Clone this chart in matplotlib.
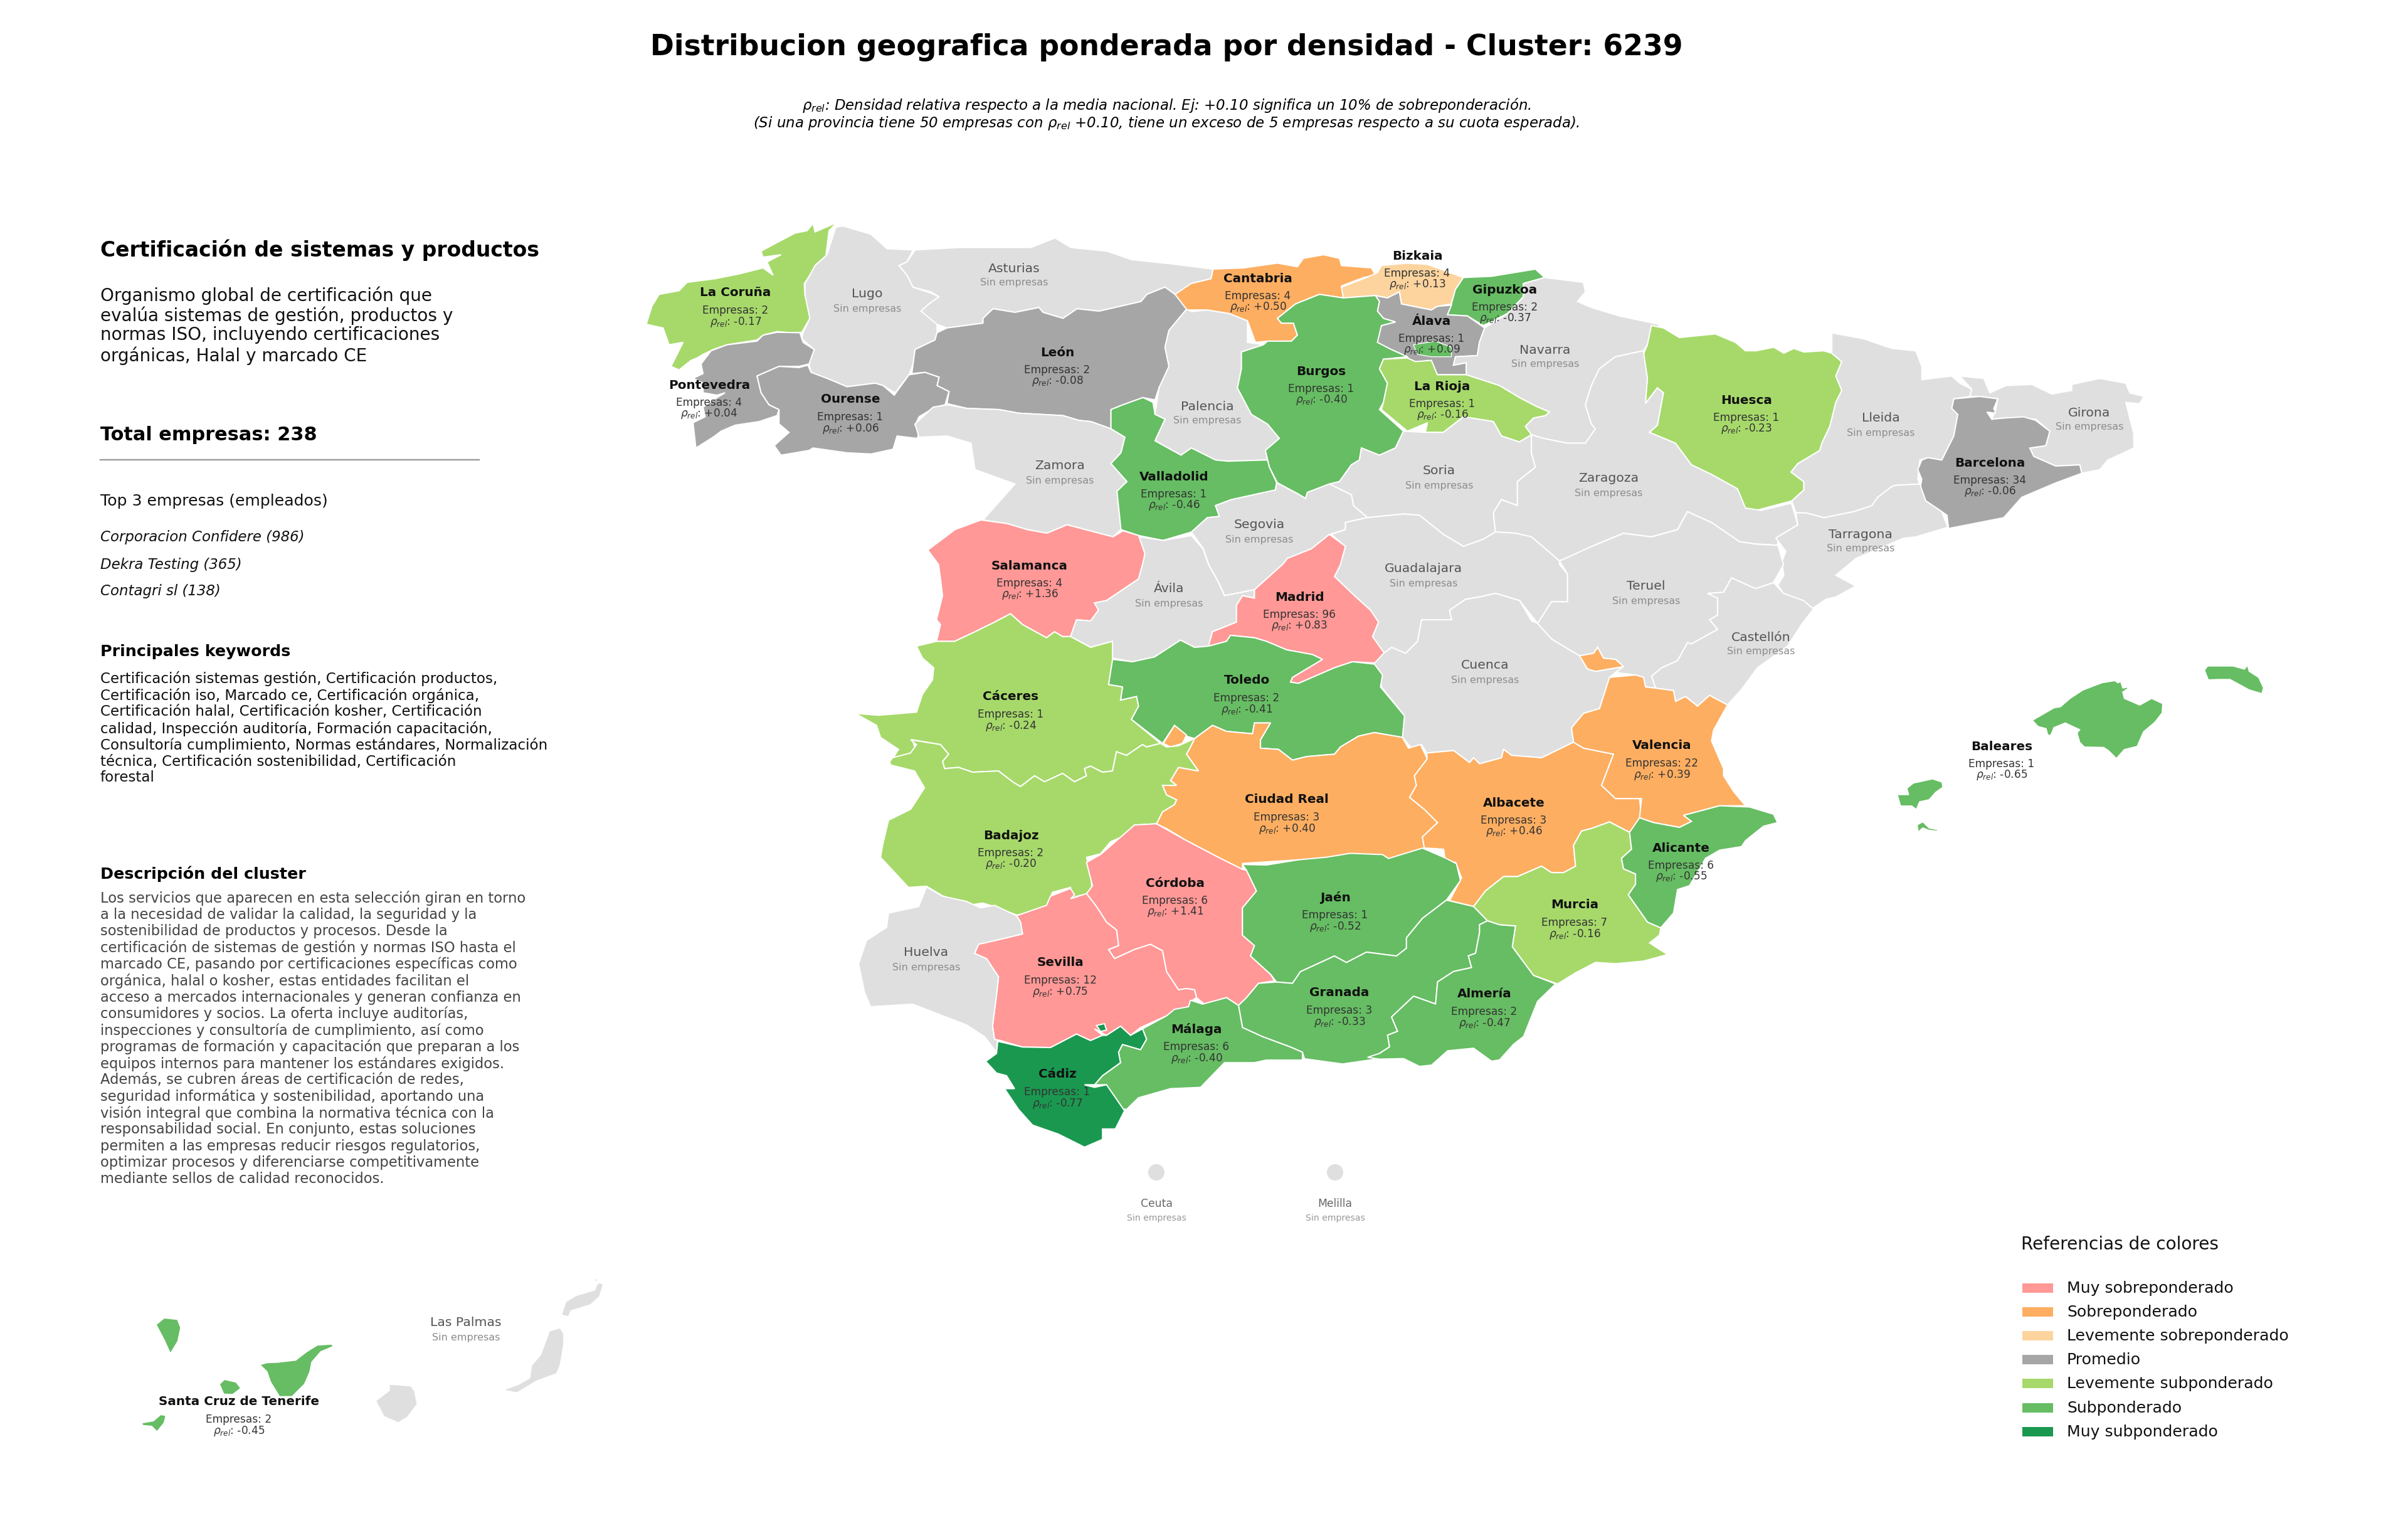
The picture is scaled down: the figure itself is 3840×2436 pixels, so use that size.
import matplotlib
matplotlib.use("Agg")
import matplotlib.pyplot as plt
from matplotlib.patches import Ellipse, Rectangle

# outlines were traced on crops of the map, each crop has its own origin and scale
# panel: x0, y0, scale x, scale y
PANELS = {
    "A": (1000, 320, 1.568, 2.613),
    "B": (1900, 320, 1.568, 2.613),
    "C": (2800, 500, 1.568, 2.613),
    "D": (1350, 900, 1.568, 2.613),
    "E": (2200, 900, 1.568, 2.613),
    "F": (1350, 1350, 1.568, 2.412),
    "G": (2200, 1300, 1.568, 2.412),
    "H": (3000, 1000, 1.96, 3.0),
    "I": (150, 2000, 1.742, 3.0),
}

# provinces: name, companies, relative density (None = sin empresas)
provinces = ["La Coruña", "Lugo", "Asturias", "León", "Pontevedra", "Ourense", "Zamora", "Palencia", "Valladolid",
             "Cantabria", "Bizkaia", "Gipuzkoa", "Álava", "Navarra", "Burgos", "La Rioja", "Huesca", "Soria",
             "Zaragoza", "Segovia", "Guadalajara", "Lleida", "Girona", "Barcelona", "Tarragona", "Castellón",
             "Salamanca", "Ávila", "Madrid", "Cuenca", "Teruel", "Toledo", "Cáceres", "Ciudad Real", "Badajoz",
             "Albacete", "Valencia", "Baleares", "Córdoba", "Jaén", "Sevilla", "Huelva", "Granada", "Málaga",
             "Cádiz", "Almería", "Murcia", "Alicante", "Las Palmas", "Santa Cruz de Tenerife"]
empresas = [2, None, None, 2, 4, 1, None, None, 1,
            4, 4, 2, 1, None, 1, 1, 1, None,
            None, None, None, None, None, 34, None, None,
            4, None, 96, None, None, 2, 1, 3, 2,
            3, 22, 1, 6, 1, 12, None, 3, 6,
            1, 2, 7, 6, None, 2]
rho = [-0.17, None, None, -0.08, 0.04, 0.06, None, None, -0.46,
       0.50, 0.13, -0.37, 0.09, None, -0.40, -0.16, -0.23, None,
       None, None, None, None, None, -0.06, None, None,
       1.36, None, 0.83, None, None, -0.41, -0.24, 0.40, -0.20,
       0.46, 0.39, -0.65, 1.41, -0.52, 0.75, None, -0.33, -0.40,
       -0.77, -0.47, -0.16, -0.55, None, -0.45]
label_x = [1173, 1383, 1617, 1686, 1131, 1356, 1690, 1925, 1872,
           2006, 2260, 2400, 2283, 2464, 2107, 2300, 2785, 2295,
           2565, 2008, 2270, 2999, 3332, 3173, 2967, 2808,
           1642, 1864, 2072, 2368, 2625, 1988, 1612, 2052, 1612,
           2414, 2650, 3192, 1874, 2129, 1691, 1477, 2136, 1908,
           1686, 2367, 2511, 2681, 743, 381]
label_y = [467, 469, 428, 562, 614, 637, 743, 648, 760,
           444, 408, 462, 512, 558, 592, 616, 638, 751,
           763, 837, 907, 667, 658, 738, 852, 1016,
           902, 939, 952, 1061, 935, 1085, 1111, 1275, 1332,
           1280, 1189, 1190, 1408, 1431, 1535, 1519, 1583, 1641,
           1713, 1585, 1443, 1352, 2109, 2235]

# outlines, one list of rings per province
la_coruna = [[("A", [(525,90),(505,125),(497,230),(470,270),(462,300),(443,345),(445,395),(455,430),(457,490),(437,548),(410,550),(375,545),(340,560),(325,580),(250,600),(215,620),(190,640),(175,655),(160,665),(130,705),(110,690),(125,640),(140,590),(105,600),(90,530),(48,515),(62,440),(80,390),(130,375),(150,340),(220,325),(280,305),(340,280),(365,310),(350,255),(385,225),(340,235),(335,210),(380,170),(420,135),(450,125),(465,95),(470,130),(505,105)])]]
pontevedra = [[("A", [(432,550),(440,590),(468,620),(455,680),(430,690),(380,690),(325,730),(335,800),(355,850),(380,870),(375,895),(330,920),(270,935),(235,960),(215,985),(172,1030),(165,925),(195,900),(190,860),(215,830),(245,800),(225,810),(190,800),(190,760),(165,740),(190,720),(185,680),(210,625),(250,600),(325,585),(340,560),(375,548)])]]
ourense = [[("A", [(325,730),(380,690),(430,695),(452,685),(460,715),(500,740),(550,775),(620,760),(640,770),(668,810),(705,725),(745,715),(780,735),(775,770),(805,795),(795,850),(770,860),(730,900),(720,935),(735,955),(725,990),(675,980),(665,1035),(610,1055),(550,1050),(465,1030),(455,1040),(385,1060),(368,1020),(405,965),(380,930),(380,870),(355,850),(335,800)])]]
lugo = [[("A", [(522,110),(540,105),(570,120),(610,140),(650,200),(715,205),(700,255),(680,270),(700,310),(715,360),(760,385),(780,400),(755,430),(735,460),(775,500),(775,550),(770,580),(720,620),(715,680),(705,725),(670,800),(640,770),(620,760),(550,775),(500,740),(460,715),(455,680),(468,620),(437,575),(440,550),(457,490),(445,395),(445,345),(470,270),(500,225)])]]
asturias = [[("A", [(720,205),(830,195),(1010,195),(1070,155),(1110,195),(1200,210),(1260,245),(1370,265),(1465,285),(1460,325),(1410,345),(1400,380),(1370,390),(1345,360),(1300,390),(1285,420),(1180,460),(1125,450),(1090,490),(1040,465),(1030,445),(970,465),(915,450),(890,490),(890,510),(800,530),(775,515),(735,460),(755,430),(780,400),(760,380),(715,360),(700,310),(680,270),(700,255)])]]
leon = [[("A", [(800,530),(890,510),(890,490),(915,450),(970,465),(1030,445),(1040,465),(1090,490),(1125,450),(1180,460),(1285,420),(1300,390),(1345,360),(1370,390),(1400,450),(1355,540),(1345,610),(1355,690),(1330,780),(1320,830),(1290,820),(1240,850),(1210,870),(1210,950),(1160,920),(1130,915),(1090,895),(980,885),(930,870),(850,865),(800,845),(805,795),(775,770),(780,735),(745,715),(712,720),(720,620),(770,580),(775,550)])]]
zamora = [[("A", [(800,850),(850,865),(930,870),(980,885),(1090,895),(1130,915),(1160,920),(1210,950),(1245,985),(1235,1050),(1210,1095),(1250,1170),(1225,1210),(1235,1370),(1215,1400),(1180,1385),(1100,1350),(1050,1385),(1000,1370),(950,1345),(890,1330),(970,1180),(870,1120),(860,1010),(800,980),(730,985),(720,930),(765,860)])]]
valladolid = [[("A", [(1210,870),(1240,850),(1290,820),(1315,840),(1320,890),(1345,910),(1320,1000),(1385,1060),(1411,1030)]),
               ("B", [(60,1080),(90,1085),(190,1080),(195,1110),(213,1175),(210,1205),(100,1245),(60,1270),(70,1315),(40,1320),(0,1380)]),
               ("A", [(1340,1415),(1280,1395),(1235,1370),(1225,1210),(1250,1170),(1210,1095),(1235,1050),(1245,985),(1210,950)])]]
palencia = [[("A", [(1400,450),(1355,540),(1345,610),(1355,690),(1330,780),(1320,890),(1345,910),(1320,1000),(1385,1060),(1411,1030)]),
             ("B", [(60,1080),(90,1085),(190,1080),(185,1040),(220,990),(190,930),(150,890),(115,780),(125,700),(125,630),(180,600),(140,590),(140,500),(95,470),(40,455),(0,462)])]]
cantabria = [[("B", [(54,285),(49,325),(-1,345),(-41,390),(-11,455),(40,455),(95,470),(140,500),(160,590),(190,585),(250,585),(265,560),(255,510),(225,510),(215,490),(260,430),(320,390),(380,405),(375,355),(430,320),(460,310),(450,280),(375,270),(370,240),(330,225),(280,240),(265,275),(215,260),(130,280)])]]
bizkaia = [[("B", [(375,360),(430,325),(465,300),(475,270),(540,260),(590,265),(680,320),(660,370),(650,430),(615,440),(600,455),(525,430),(520,380),(490,405),(460,395),(380,405)])],
           [("B", [(490,465),(505,455),(515,475),(495,480)])]]
gipuzkoa = [[("B", [(680,320),(750,315),(860,285),(883,320),(830,345),(830,400),(790,470),(730,520),(690,480),(640,475),(650,430),(660,370)])]]
alava = [[("B", [(460,395),(490,405),(520,380),(525,430),(600,455),(615,440),(650,435),(640,475),(690,480),(733,530),(720,590),(715,645),(660,650),(655,685),(687,675),(687,725),(615,725),(590,665),(555,690),(540,650),(500,620),(460,590),(475,520),(510,505),(480,490),(465,460),(470,420)])],
         [("B", [(425,530),(450,500),(475,520),(465,545),(445,555)])]]
burgos = [[("B", [(125,630),(180,600),(190,585),(250,585),(265,560),(255,510),(225,510),(215,490),(260,430),(320,390),(380,405),(460,395),(470,420),(465,460),(480,490),(510,505),(475,520),(465,590),(500,620),(540,650),(480,660),(470,700),(490,760),(480,840),(470,870),(530,960),(510,1030),(470,1060),(425,1030),(420,1080),(400,1100),(370,1170),(345,1180),(290,1215),(285,1240),(265,1220),(215,1175),(195,1110),(185,1040),(220,990),(190,930),(150,890),(115,780),(125,700)])]]
trevino = [[("B", [(555,600),(610,585),(650,610),(650,650),(600,650),(565,640)])]]
la_rioja = [[("B", [(480,660),(540,655),(560,670),(600,665),(615,725),(687,725),(715,740),(770,770),(820,820),(860,855),(895,880),(885,895),(855,905),(835,940),(850,975),(820,1005),(775,980),(755,920),(680,900),(630,965),(585,965),(590,925),(540,960),(475,870),(480,840),(490,760),(470,700)])]]
navarra = [[("B", [(883,320),(980,340),(985,380),(965,420),(1000,445),(1070,480),(1140,505),(1170,515),(1140,600),(1130,625),(1060,650),(1020,700),(1000,770),(985,850),(1000,930),(1010,950),(985,1010),(940,1010),(880,990),(850,975),(835,940),(855,905),(885,895),(895,880),(860,855),(820,820),(770,770),(715,740),(687,725),(687,675),(655,685),(660,650),(715,645),(720,590),(733,530),(790,470),(830,400),(830,345)])]]
huesca = [[("B", [(1150,520),(1180,530),(1220,570),(1310,555),(1360,590),(1385,625),(1411,625)]),
           ("C", [(0,155),(45,140),(70,165),(95,145),(120,160),(170,155),(190,165),(215,200),(200,260),(215,320),(200,370),(185,470),(165,540),(160,570),(105,625),(88,660),(120,700),(120,735),(90,780),(0,820)]),
           ("B", [(1385,1280),(1365,1200),(1300,1140),(1250,1100),(1210,1010),(1145,965),(1165,935),(1180,800),(1165,780),(1135,845),(1140,740),(1130,640),(1140,600)])]]
zaragoza = [[("B", [(1010,950),(1000,930),(985,850),(1000,770),(1020,700),(1060,650),(1130,625),(1140,740),(1135,845),(1165,780),(1180,800),(1165,935),(1145,965),(1210,1010),(1250,1100),(1300,1140),(1365,1200),(1385,1280),(1425,1290),(1500,1260),(1511,1320),(1516,1350),(1466,1400),(1466,1435),(1411,1430),(1370,1420),(1300,1340),(1240,1295),(1215,1370),(1150,1400),(1080,1385),(1000,1440),(960,1480),(920,1500),(850,1400),(810,1385),(760,1380),(755,1300),(775,1245),(815,1270),(815,1170),(860,1110),(850,1050),(850,975),(880,990),(940,1010),(985,1010)])]]
soria = [[("B", [(530,960),(585,965),(630,965),(680,900),(755,920),(775,980),(820,1005),(850,975),(850,1050),(860,1110),(815,1170),(815,1270),(775,1245),(755,1300),(760,1380),(730,1410),(680,1440),(630,1390),(570,1310),(530,1305),(440,1320),(405,1270),(400,1225),(345,1180),(370,1170),(400,1100),(420,1080),(425,1030),(470,1060),(510,1030)])]]
segovia = [[("B", [(213,1175),(265,1220),(285,1240),(290,1215),(345,1180),(400,1225),(405,1270),(440,1320),(385,1340),(385,1370),(345,1390),(300,1450),(240,1490),(228,1515),(158,1620),(83,1645),(68,1590),(43,1515),(30,1450),(0,1380),(40,1320),(70,1315),(60,1270),(100,1245),(210,1205)])]]
guadalajara = [[("B", [(385,1340),(440,1320),(530,1305),(570,1310),(630,1390),(680,1440),(730,1410),(760,1380),(810,1385),(850,1400),(920,1500)]),
                ("E", [(450,0),(470,40),(470,155),(430,155),(395,245),(350,150),(290,120),(250,135),(215,145),(175,190),(180,230),(105,230),(95,320),(65,370),(30,345),(10,370)]),
                ("D", [(1315,300),(1330,240),(1310,190),(1270,130),(1220,50),(1235,0)]),
                ("B", [(375,1500),(385,1440),(350,1390),(385,1370)])]]
madrid = [[("B", [(345,1390),(385,1440),(375,1500)]),
           ("D", [(1235,0),(1220,50),(1270,130),(1310,190),(1330,240),(1315,300),(1345,370),(1350,395),(1320,410),(1265,405),(1220,430),(1130,495),(1110,490),(1115,470),(1190,395),(1165,375),(1100,355),(1050,320),(1020,305),(960,295),(950,320),(905,340),(915,280),(975,240),(975,170),(990,130),(1020,140),(1020,105),(1090,0)]),
           ("B", [(228,1515),(240,1490),(300,1450)])]]
avila = [[("A", [(1280,1400),(1340,1415),(1411,1395),(1440,1450)]),
          ("D", [(905,0),(930,75),(945,130),(1020,105),(1020,140),(990,130),(975,170),(975,240),(915,280),(905,340),(870,345),(835,315),(770,385),(715,405),(665,390),(665,320),(610,345),(560,300),(575,230),(610,235),(630,190),(620,160),(650,150),(730,60),(740,0)]),
          ("A", [(1295,1470)])]]
salamanca = [[("A", [(752,1455),(820,1370),(885,1330),(950,1345),(1000,1370),(1050,1385),(1100,1350),(1180,1385),(1215,1400),(1240,1375),(1280,1395),(1295,1470),(1289,1515)]),
              ("D", [(730,60),(650,150),(620,160),(630,190),(610,235),(575,230),(560,300),(540,300),(520,280),(500,305),(440,250),(410,205),(370,240),(315,285),(270,320),(225,320),(235,250),(225,230),(240,130),(235,60),(230,0)])]]
caceres = [[("D", [(225,320),(270,320),(315,285),(370,240),(410,205),(440,250),(500,305),(520,280),(540,300),(560,300),(610,345),(665,320),(665,395),(655,500),(690,510),(685,565),(725,550),(730,590),(712,645),(785,745),(750,760),(740,750),(700,795),(675,780),(665,860),(640,865),(610,840),(595,850),(600,880),(570,905),(540,870),(495,905),(470,880),(435,925),(415,905),(380,860),(315,865),(280,845),(245,850),(240,820),(255,790),(235,750),(165,730),(175,790),(115,810),(130,770),(85,720),(75,670),(22,620),(80,628),(175,615),(190,540),(215,480),(218,430),(190,390),(175,340)])]]
badajoz = [[("D", [(108,820),(115,805),(160,785),(175,750),(160,730),(235,750),(255,790),(240,820),(245,850),(280,845),(315,865),(380,860),(415,905),(435,925),(470,880),(495,905),(540,870),(570,905),(600,880),(595,850),(610,840),(640,865),(665,860),(675,780),(700,795),(740,750),(750,760),(785,745),(800,760),(830,755),(870,725),(860,760),(850,790),(880,860),(830,845),(810,900),(825,920),(790,920),(800,960),(825,980),(820,1000),(790,1030),(775,1080),(720,1085),(715,1115),(660,1155),(635,1205),(600,1220),(610,1290),(615,1370),(580,1380),(555,1395),(560,1345),(515,1365),(495,1440),(425,1460),(370,1425),(340,1410),(305,1420),(240,1380),(200,1340),(155,1345),(85,1220),(90,1170),(105,1065),(160,1020),(170,995),(195,930),(170,860),(110,835)])]]
toledo = [[("D", [(665,395),(715,405),(770,385),(835,315),(870,345),(905,340),(950,320),(960,295),(1020,305),(1050,320),(1100,355),(1165,375),(1190,395),(1115,470),(1110,490),(1130,495),(1220,430),(1265,405),(1320,415),(1340,460),(1335,510),(1395,630),(1390,720),(1320,700),(1280,715),(1235,760),(1220,790),(1150,800),(1115,815),(1080,770),(1035,765),(1035,730),(1060,660),(1020,660),(1015,705),(950,695),(915,670),(870,725),(850,715),(820,670),(790,745),(712,645),(730,590),(725,550),(685,565),(690,510),(655,500)])]]
ciudad_real = [[("D", [(870,725),(915,670),(950,695),(1015,705),(1020,660),(1060,660),(1035,730),(1035,765),(1080,770),(1115,815),(1150,800),(1220,790),(1235,760),(1280,715),(1320,700),(1390,720),(1405,765),(1435,750),(1452,810),(1420,880),(1425,920),(1408,970),(1445,1020),(1478,1075),(1440,1135),(1445,1180),(1395,1215),(1360,1230),(1330,1210),(1260,1205),(1200,1240),(1130,1230),(990,1245),(990,1270),(930,1220),(850,1150),(800,1100),(775,1080),(790,1030),(820,1000),(825,980),(800,960),(790,920),(825,920),(810,900),(830,845),(880,860),(850,790),(860,760)])],
               [("D", [(820,670),(850,710),(840,745),(810,760),(792,745)])]]
cordoba = [[("D", [(720,1085),(775,1080),(850,1150),(930,1220),(990,1270)]),
            ("F", [(1000,90),(1025,170),(990,235),(990,340),(1020,380),(1010,420),(1060,490),(1070,515),(1030,525),(1000,580),(980,610),(950,580),(895,605),(875,580),(870,550),(850,545),(830,550),(800,480),(790,400),(760,375),(740,385),(720,395),(670,430),(655,395),(680,380),(675,320),(650,290),(625,230),(600,180),(615,150),(600,60),(635,30),(650,10)])]]
sevilla = [[("F", [(425,265),(500,225),(510,190),(560,160),(570,185),(560,200),(600,180),(625,230),(650,290),(675,320),(680,380),(655,395),(670,430),(720,395),(760,375),(790,400),(800,480),(830,550),(850,545),(870,550),(875,580),(860,595),(855,615),(800,650),(735,695),(710,725),(685,690),(650,725),(620,700),(640,725),(610,745),(575,720),(510,772),(440,770),(385,745),(370,740),(365,690),(375,570),(380,500),(350,430),(320,410),(330,375),(400,350),(440,335),(435,290)])]]
huelva = [[("F", [(200,155),(240,190),(300,210),(335,235),(370,225),(425,265),(435,290),(440,335),(400,350),(330,375),(320,410),(350,430),(380,500),(375,570),(365,690),(370,740),(378,745),(375,790),(345,730),(300,685),(165,605),(60,615),(45,560),(30,450),(50,360),(100,310),(105,255),(180,230)])]]
cadiz = [[("F", [(378,748),(440,770),(510,772),(575,720),(610,745),(640,725),(650,725),(685,690),(710,725),(740,700),(750,740),(735,780),(690,760),(680,790),(685,830),(640,880),(620,915),(595,915),(620,925),(650,915),(695,1015),(672,1085),(640,1085),(640,1125),(595,1155),(530,1105),(465,1070),(430,1010),(395,930),(420,930),(400,880),(375,870),(348,825),(375,795)])],
         [("F", [(625,687),(645,680),(650,705),(635,710)])]]
malaga = [[("F", [(860,590),(890,605),(950,580),(980,610),(990,695),(1040,730),(1110,770),(1140,790),(1140,820),(1050,820),(1020,830),(945,830),(885,925),(810,930),(730,965),(700,1010),(680,1005),(650,915),(620,915),(640,880),(685,830),(680,790),(690,760),(735,780),(750,740),(740,700),(800,650),(820,625),(855,615)])]]
jaen = [[("F", [(990,68),(1050,70),(1130,50),(1200,40),(1260,25),(1340,30),(1355,45),(1440,5),(1500,45),(1525,65),(1535,130),(1500,205),(1440,275),(1400,350),(1400,390),(1375,420),(1300,405),(1250,445),(1220,420),(1135,480),(1115,525),(1075,520),(1060,490),(1010,420),(1020,380),(990,340),(990,235),(1025,170),(1000,90)])]]
granada = [[("F", [(1075,520),(1115,525),(1135,480),(1220,420),(1250,445),(1300,405),(1375,420),(1400,390),(1400,350),(1440,275),(1500,205)]),
            ("G", [(235,350),(270,405),(250,420),(250,450),(240,530),(222,540),(230,585),(185,600),(145,640),(140,725),(85,695),(30,775),(45,830),(20,845),(25,890),(0,915)]),
            ("F", [(1330,815),(1240,835),(1145,815),(1140,790),(1110,770),(1040,730),(990,695),(980,610),(1000,580),(1030,525)])]]
almeria = [[("G", [(250,420),(270,405),(300,420),(340,425),(332,505),(385,615),(440,648),(395,715),(360,850),(335,880),(300,940),(280,945),(235,895),(170,905),(130,960),(100,965),(60,935),(0,937),(-30,930),(0,915),(25,890),(20,845),(45,830),(30,775),(85,695),(140,725),(145,640),(185,600),(230,585),(222,540),(240,530),(250,450)])]]
murcia = [[("G", [(235,350),(265,290),(310,235),(345,235),(405,195),(430,220),(460,220),(490,195),(485,115),(505,60),(530,50),(575,25),(625,65),(630,130),(605,165),(610,205),(640,225),(640,265),(622,305),(670,410),(703,432),(700,460),(675,490),(720,535),(660,560),(590,570),(540,565),(490,605),(445,648),(385,615),(332,505),(340,425),(300,420),(270,405)])]]
alicante = [[("E", [(650,1055),(685,1075),(750,1095),(780,1070),(760,1045),(850,1005),(925,1010),(985,1040),(995,1075),(960,1090),(915,1150),(905,1175),(850,1190)]),
             ("G", [(815,165),(775,270),(745,285),(735,375),(703,432),(670,410),(622,305),(640,265),(640,225),(610,205),(605,165),(630,130),(625,65)])]]
albacete = [[("E", [(118,785),(185,775),(225,825),(235,805),(250,830),(305,805),(310,770),(330,795),(405,805),(485,740),(510,765),(585,790),(555,920),(590,975),(650,975),(655,1055),(655,1100)]),
             ("G", [(625,65),(575,25),(530,50),(505,60),(485,115),(490,195),(460,220),(430,220),(405,195),(345,235),(310,235),(265,290),(235,350),(175,328),(205,240),(190,180),(165,180),(160,130),(112,125)]),
             ("E", [(107,1135),(145,1075),(112,1020),(75,970),(92,920),(87,880),(119,810)])]]
valencia = [[("E", [(575,470),(640,460),(660,470),(665,510),(690,515),(735,525),(740,570),(765,550),(795,590),(825,545),(870,585),(835,690),(830,735),(860,850),(860,880),(885,945),(915,1005),(850,1005),(760,1045),(780,1070),(750,1095),(685,1075),(650,1055),(655,975),(590,975),(555,920),(585,790),(510,765),(485,740),(480,680),(510,620),(550,600)])],
            [("E", [(500,380),(535,370),(545,345),(560,390),(590,395),(610,425),(540,445),(520,435)])]]
cuenca = [[("E", [(10,370),(30,345),(65,370),(95,320),(105,230),(180,230),(175,190),(215,145),(250,135),(290,120),(350,150),(380,235),(395,245),(430,310),(500,380),(520,435),(540,445),(610,425),(590,450),(575,470),(550,600),(510,620),(480,680),(485,740),(405,805),(330,795),(310,770),(305,805),(250,830),(235,805),(225,825),(185,775),(118,785),(105,750),(80,765),(55,715),(60,625),(5,510),(0,460),(-15,415)])]]
teruel = [[("E", [(450,-15),(530,-75),(610,-130),(680,-115),(745,-145),(770,-220),(830,-175),(900,-95),(941,-85),(996,-80),(1010,0),(985,75),(940,100),(880,55),(860,115),(820,120),(845,140),(845,210),(825,230),(845,270),(780,330),(770,325),(745,400),(705,430),(680,465),(690,515),(665,510),(660,470),(640,460),(590,450),(610,425),(590,395),(560,390),(545,345),(535,370),(500,380),(430,310),(395,245),(430,155),(470,155),(470,40)])]]
castellon = [[("E", [(880,55),(940,100),(985,75),(1010,120),(1060,150),(1085,185),(1055,250),(1020,340),(945,430),(905,520),(870,585),(825,545),(795,590),(765,550),(740,570),(735,525),(690,515),(680,465),(705,430),(745,400),(770,325),(780,330),(845,270),(825,230),(845,210),(845,140),(820,120),(860,115)])]]
tarragona = [[("C", [(100,830),(125,830),(170,850),(245,825),(290,800),(305,765),(340,720),(350,715),(410,710),(425,780),(465,825),(480,890),(400,930),(370,935),(250,1020),(200,1090),(250,1135),(200,1180),(175,1190),(140,1230),(75,1180),(55,1130),(70,1090),(65,1035),(75,990),(50,935),(105,880)])]]
lleida = [[("C", [(190,80),(270,105),(340,145),(400,155),(415,220),(415,275),(490,260),(510,290),(540,315),(535,345),(495,355),(490,395),(505,420),(495,510),(465,610),(430,600),(410,610),(405,690),(410,710),(350,715),(340,720),(305,765),(290,800),(245,825),(170,850),(125,830),(100,830),(90,780),(120,735),(120,700),(88,660),(105,625),(160,570),(165,540),(185,470),(200,370),(215,320),(200,260),(215,200),(190,165)])]]
girona = [[("C", [(510,260),(570,270),(585,330),(625,300),(690,295),(740,335),(790,320),(790,295),(860,270),(925,290),(935,330),(970,345),(960,375),(925,370),(945,500),(945,560),(880,610),(860,650),(815,665),(810,630),(750,635),(695,595),(685,560),(725,550),(735,490),(700,440),(620,435),(590,440),(600,400),(605,355),(560,345),(535,345),(540,315)])]]
barcelona = [[("C", [(495,355),(560,345),(605,355),(595,395),(600,415),(578,410),(590,440),(620,435),(670,430),(700,445),(735,490),(725,550),(685,560),(695,595),(750,635),(810,630),(815,665),(750,705),(665,765),(620,850),(482,895),(478,840),(465,825),(425,780),(410,735),(415,690),(405,650),(415,610),(430,600),(465,610),(495,510),(505,420),(490,395)])]]
baleares = [[("H", [(472,445),(540,385),(560,380),(590,340),(630,300),(690,265),(730,255),(740,265),(780,240),(750,265),(755,290),(780,285),(755,310),(760,340),(808,372),(845,340),(880,365),(878,410),(855,455),(820,500),(800,570),(760,585),(735,628),(710,590),(695,575),(635,573),(620,550),(612,505),(620,490),(575,458),(540,480),(530,517),(520,515),(515,485),(490,475)])],
            [("H", [(1010,205),(1020,185),(1100,185),(1135,200),(1145,180),(1150,210),(1180,240),(1195,290),(1190,318),(1150,300),(1090,250),(1055,250),(1022,252)])],
            [("H", [(50,800),(85,800),(80,770),(100,745),(160,725),(190,740),(193,765),(170,790),(150,825),(120,835),(110,872),(95,855),(60,855)])],
            [("H", [(112,945),(130,930),(150,960),(180,968),(175,975),(150,972),(130,960),(115,980)])],
            [("H", [(685,700),(695,700),(692,708)])]]
tenerife = [[("I", [(172,335),(195,303),(232,310),(241,350),(233,415),(212,475),(195,410)])],
            [("I", [(460,527),(480,517),(510,515),(560,505),(590,465),(620,433),(660,428),(665,440),(630,465),(605,515),(600,560),(585,620),(550,680),(515,680),(490,610),(480,560)])],
            [("I", [(348,620),(362,597),(395,610),(408,640),(385,670),(360,668)])],
            [("I", [(132,805),(165,795),(185,765),(200,770),(195,805),(175,848),(160,822),(135,818)])]]
las_palmas = [[("I", [(782,700),(820,650),(820,620),(880,628),(890,650),(898,715),(870,780),(845,805),(805,775)])],
              [("I", [(1135,648),(1180,620),(1210,590),(1215,530),(1240,480),(1265,365),(1295,350),(1305,380),(1305,430),(1295,530),(1285,570),(1230,605),(1175,662)])],
              [("I", [(1298,290),(1310,225),(1340,195),(1390,170),(1400,135),(1415,140),(1405,200),(1380,240),(1325,270),(1318,298)])],
              [("I", [(1390,128),(1396,106),(1400,128)])]]

outlines = {"La Coruña": la_coruna, "Lugo": lugo, "Asturias": asturias, "León": leon, "Pontevedra": pontevedra,
            "Ourense": ourense, "Zamora": zamora, "Palencia": palencia, "Valladolid": valladolid,
            "Cantabria": cantabria, "Bizkaia": bizkaia, "Gipuzkoa": gipuzkoa, "Álava": alava, "Navarra": navarra,
            "Burgos": burgos, "La Rioja": la_rioja, "Huesca": huesca, "Soria": soria, "Zaragoza": zaragoza,
            "Segovia": segovia, "Guadalajara": guadalajara, "Lleida": lleida, "Girona": girona,
            "Barcelona": barcelona, "Tarragona": tarragona, "Castellón": castellon, "Salamanca": salamanca,
            "Ávila": avila, "Madrid": madrid, "Cuenca": cuenca, "Teruel": teruel, "Toledo": toledo,
            "Cáceres": caceres, "Ciudad Real": ciudad_real, "Badajoz": badajoz, "Albacete": albacete,
            "Valencia": valencia, "Baleares": baleares, "Córdoba": cordoba, "Jaén": jaen, "Sevilla": sevilla,
            "Huelva": huelva, "Granada": granada, "Málaga": malaga, "Cádiz": cadiz, "Almería": almeria,
            "Murcia": murcia, "Alicante": alicante, "Las Palmas": las_palmas, "Santa Cruz de Tenerife": tenerife}

# colour classes
legend_labels = ["Muy sobreponderado", "Sobreponderado", "Levemente sobreponderado", "Promedio",
                 "Levemente subponderado", "Subponderado", "Muy subponderado"]
legend_colors = ["#FF9896", "#FDAE61", "#FDD49E", "#A6A6A6", "#A6D96A", "#66BD63", "#1A9850"]
NO_DATA = "#DFDFDF"

# side panel text
title = "Distribucion geografica ponderada por densidad - Cluster: 6239"
subtitle = [r"$\rho_{rel}$: Densidad relativa respecto a la media nacional. Ej: +0.10 significa un 10% de sobreponderación.",
            r"(Si una provincia tiene 50 empresas con $\rho_{rel}$ +0.10, tiene un exceso de 5 empresas respecto a su cuota esperada)."]
desc_lines = ["Organismo global de certificación que", "evalúa sistemas de gestión, productos y",
              "normas ISO, incluyendo certificaciones", "orgánicas, Halal y marcado CE"]
top_companies = ["Corporacion Confidere (986)", "Dekra Testing (365)", "Contagri sl (138)"]
keyword_lines = ["Certificación sistemas gestión, Certificación productos,",
                 "Certificación iso, Marcado ce, Certificación orgánica,",
                 "Certificación halal, Certificación kosher, Certificación",
                 "calidad, Inspección auditoría, Formación capacitación,",
                 "Consultoría cumplimiento, Normas estándares, Normalización",
                 "técnica, Certificación sostenibilidad, Certificación",
                 "forestal"]
cluster_lines = ["Los servicios que aparecen en esta selección giran en torno",
                 "a la necesidad de validar la calidad, la seguridad y la",
                 "sostenibilidad de productos y procesos. Desde la",
                 "certificación de sistemas de gestión y normas ISO hasta el",
                 "marcado CE, pasando por certificaciones específicas como",
                 "orgánica, halal o kosher, estas entidades facilitan el",
                 "acceso a mercados internacionales y generan confianza en",
                 "consumidores y socios. La oferta incluye auditorías,",
                 "inspecciones y consultoría de cumplimiento, así como",
                 "programas de formación y capacitación que preparan a los",
                 "equipos internos para mantener los estándares exigidos.",
                 "Además, se cubren áreas de certificación de redes,",
                 "seguridad informática y sostenibilidad, aportando una",
                 "visión integral que combina la normativa técnica con la",
                 "responsabilidad social. En conjunto, estas soluciones",
                 "permiten a las empresas reducir riesgos regulatorios,",
                 "optimizar procesos y diferenciarse competitivamente",
                 "mediante sellos de calidad reconocidos."]


def ring_xy(ring):
    xs, ys = [], []
    for panel, pts in ring:
        x0, y0, sx, sy = PANELS[panel]
        for px, py in pts:
            xs.append(x0 + px / sx)
            ys.append(y0 + py / sy)
    return xs, ys


def class_color(r):
    if r is None:
        return NO_DATA
    if r >= 0.75:
        return legend_colors[0]
    if r >= 0.3:
        return legend_colors[1]
    if r > 0.1:
        return legend_colors[2]
    if r >= -0.1:
        return legend_colors[3]
    if r >= -0.3:
        return legend_colors[4]
    if r >= -0.7:
        return legend_colors[5]
    return legend_colors[6]


fig = plt.figure(figsize=(16, 10.15), dpi=240)
ax = fig.add_axes([0, 0, 1, 1])
ax.set_xlim(0, 3840)
ax.set_ylim(2436, 0)
ax.axis("off")

# map
for name, r in zip(provinces, rho):
    for ring in outlines[name]:
        xs, ys = ring_xy(ring)
        ax.fill(xs, ys, facecolor=class_color(r), edgecolor="white", linewidth=0.6, zorder=2)
for ring in trevino:
    xs, ys = ring_xy(ring)
    ax.fill(xs, ys, facecolor=class_color(-0.40), edgecolor="white", linewidth=0.4, zorder=3)

# labels
for name, n, r, x, y in zip(provinces, empresas, rho, label_x, label_y):
    if n is None:
        ax.text(x, y, name, ha="center", va="center", fontsize=6.1, color="#555555", zorder=5)
        ax.text(x, y + 23, "Sin empresas", ha="center", va="center", fontsize=4.8, color="#8c8c8c", zorder=5)
    else:
        ax.text(x, y, name, ha="center", va="center", fontsize=6, fontweight="bold", color="#111111", zorder=5)
        ax.text(x, y + 28, f"Empresas: {n}", ha="center", va="center", fontsize=5.1, color="#333333", zorder=5)
        ax.text(x, y + 46, r"$\rho_{rel}$: " + f"{r:+.2f}", ha="center", va="center", fontsize=5.1,
                color="#333333", zorder=5)

# ceuta y melilla
for name, x in zip(["Ceuta", "Melilla"], [1844, 2129]):
    ax.add_patch(Ellipse((x, 1869), 26, 26, facecolor=NO_DATA, edgecolor="none", zorder=2))
    ax.text(x, 1919, name, ha="center", va="center", fontsize=5.2, color="#666666")
    ax.text(x, 1942, "Sin empresas", ha="center", va="center", fontsize=4.2, color="#999999")

# title
ax.text(1860, 75, title, ha="center", va="center", fontsize=13.7, fontweight="bold", color="black")
for line, y in zip(subtitle, [168, 197]):
    ax.text(1860, y, line, ha="center", va="center", fontsize=6.85, style="italic", color="black")

# left panel
LEFT = 160
ax.text(LEFT, 399, "Certificación de sistemas y productos", va="center", fontsize=9.9, fontweight="bold")
for line, y in zip(desc_lines, [471, 503, 534, 567]):
    ax.text(LEFT, y, line, va="center", fontsize=8.35, color="#111111")
ax.text(LEFT, 694, "Total empresas: 238", va="center", fontsize=9.1, fontweight="bold")
ax.plot([LEFT, 764], [733, 733], color="#999999", linewidth=0.7)
ax.text(LEFT, 799, "Top 3 empresas (empleados)", va="center", fontsize=7.55, color="#111111")
for line, y in zip(top_companies, [857, 900, 942]):
    ax.text(LEFT, y, line, va="center", fontsize=6.87, style="italic", color="#111111")
ax.text(LEFT, 1039, "Principales keywords", va="center", fontsize=7.6, fontweight="bold")
for line, y in zip(keyword_lines, [1082, 1109, 1134, 1162, 1188, 1214, 1239]):
    ax.text(LEFT, y, line, va="center", fontsize=6.9, color="#111111")
ax.text(LEFT, 1393, "Descripción del cluster", va="center", fontsize=7.6, fontweight="bold")
for i, line in enumerate(cluster_lines):
    ax.text(LEFT, 1432 + i * 26.35, line, va="center", fontsize=6.8, color="#444444")

# legend
ax.text(3223, 1984, "Referencias de colores", va="center", fontsize=8.4, color="#111111")
for label, color, y in zip(legend_labels, legend_colors, [2053, 2091, 2129, 2167, 2205, 2244, 2282]):
    ax.add_patch(Rectangle((3225, y - 7.5), 49, 15, facecolor=color, edgecolor="none"))
    ax.text(3296, y + 1, label, va="center", fontsize=7.55, color="#111111")

fig.savefig("out.png", dpi=240, facecolor="white")
